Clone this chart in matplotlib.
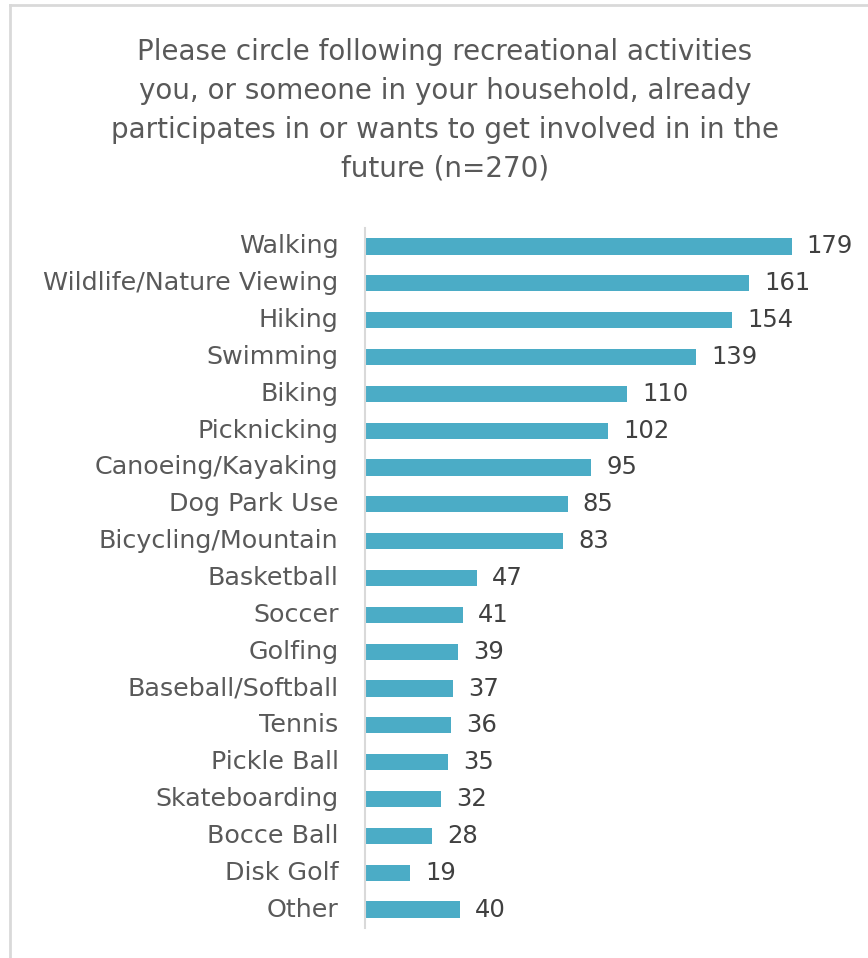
import matplotlib.pyplot as plt
from matplotlib.lines import Line2D

activities = [
    "Walking", "Wildlife/Nature Viewing", "Hiking", "Swimming", "Biking",
    "Picknicking", "Canoeing/Kayaking", "Dog Park Use", "Bicycling/Mountain",
    "Basketball", "Soccer", "Golfing", "Baseball/Softball", "Tennis",
    "Pickle Ball", "Skateboarding", "Bocce Ball", "Disk Golf", "Other",
]
counts = [179, 161, 154, 139, 110, 102, 95, 85, 83, 47, 41, 39, 37, 36, 35, 32, 28, 19, 40]

title = ("Please circle following recreational activities\n"
         "you, or someone in your household, already\n"
         "participates in or wants to get involved in in the\n"
         "future (n=270)")

bar_color = "#4BACC6"
text_gray = "#595959"
plt.rcParams["font.family"] = ["DejaVu Sans"]

fig = plt.figure(figsize=(8.68, 9.58), dpi=100)
ax = fig.add_axes([365 / 868, 1 - 928 / 958, 1 - 365 / 868, (928 - 228) / 958])

y = list(range(len(activities)))
ax.barh(y, counts, height=0.44, color=bar_color)
ax.set_ylim(len(activities) - 0.5, -0.5)
ax.set_xlim(0, 211)

for yi, c in zip(y, counts):
    ax.text(c + 6.3, yi, str(c), va="center", ha="left", fontsize=17.5, color="#404040")

ax.set_yticks(y)
ax.set_yticklabels(activities, fontsize=18.3, color=text_gray, va="center")
ax.tick_params(axis="y", length=0, pad=19)
ax.set_xticks([])
for side in ["top", "right", "bottom"]:
    ax.spines[side].set_visible(False)
ax.spines["left"].set_color("#d9d9d9")
ax.spines["left"].set_linewidth(1.5)

fig.text(445 / 868, 1 - 38 / 958, title, ha="center", va="top", fontsize=20,
         color=text_gray, linespacing=1.5)

# outer chart border (partly cropped)
fig.add_artist(Line2D([10 / 868, 10 / 868], [0, 1 - 5 / 958], color="#d9d9d9", lw=2,
                      transform=fig.transFigure))
fig.add_artist(Line2D([10 / 868, 1], [1 - 5 / 958, 1 - 5 / 958], color="#d9d9d9", lw=2,
                      transform=fig.transFigure))

fig.savefig("out.png", dpi=100)
